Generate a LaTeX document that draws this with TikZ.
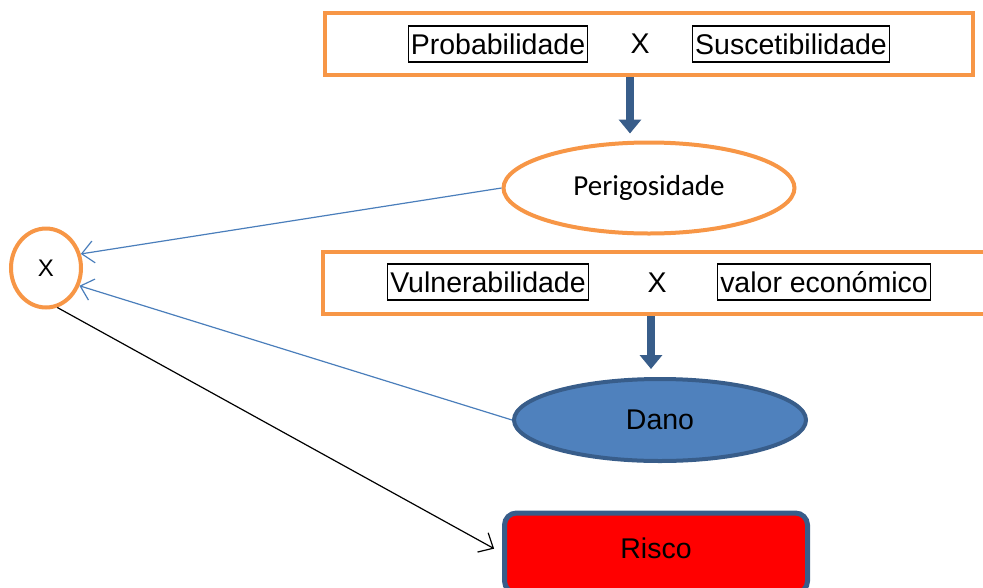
\documentclass[tikz,border=0pt]{standalone}
\usepackage{fontspec}
\setmainfont{Liberation Sans}
\newfontfamily\calibri{Carlito}
\usepackage{xcolor}
\usepackage{tikz}
\usetikzlibrary{arrows.meta,positioning,calc,shapes.geometric}
\definecolor{accorange}{HTML}{F79646}
\definecolor{accblue}{HTML}{4F81BD}
\definecolor{darkblue}{HTML}{385D8A}
\definecolor{linkblue}{HTML}{4A7EBB}

\begin{document}
\begin{tikzpicture}[
  x=1pt, y=-1pt,
  bigfont/.style = {font=\fontsize{28.5}{32}\selectfont},
  frame/.style  = {rectangle, draw=accorange, line width=4pt, fill=white,
                   minimum width=#1, minimum height=62pt, inner sep=0pt},
  word/.style   = {rectangle, draw=black, line width=1.2pt, bigfont,
                   inner sep=2.5pt, minimum height=36pt},
  times/.style  = {bigfont, inner sep=0pt},
  oval/.style   = {ellipse, draw=accorange, line width=4pt, fill=white,
                   inner sep=0pt},
  bigarrow/.style = {-{Triangle[width=22pt,length=14pt]}, line width=8pt,
                     darkblue},
  link/.style   = {-{Straight Barb[length=12pt,width=22pt]}, linkblue,
                   line width=1.2pt},
  outlink/.style = {-{Straight Barb[length=12pt,width=22pt]}, black,
                    line width=1.2pt}
]
\useasboundingbox (0,0) rectangle (983,587);
\clip (0,0) rectangle (983,587);

%% ─── Top product box ────────────────────────────────────────────
\node[frame=648pt] (hazbox) at (649,44) {};
\node[word] (prob) at (498,44) {Probabilidade};
\node[times] (times1) at (640,44) {X};
\node[word] (susc) at (791,44) {Suscetibilidade};

\node[oval, minimum width=291pt, minimum height=91pt,
      font=\calibri\fontsize{29}{32}\selectfont] (perig) at (649,188)
  {Perigosidade};

%% ─── Second product box (runs off the right edge) ───────────────
\node[frame=680pt] (vulbox) at (663,283) {};
\node[word] (vuln) at (488,282) {Vulnerabilidade};
\node[times] (times2) at (657,283) {X};
\node[word] (valor) at (824,282) {valor económico};

\node[oval, fill=accblue, draw=darkblue, minimum width=292pt,
      minimum height=82pt, bigfont] (dano) at (660,420) {Dano};

%% ─── Product circle and result ──────────────────────────────────
\node[oval, minimum width=70pt, minimum height=79pt,
      font=\fontsize{24}{28}\selectfont] (prod) at (46,268) {X};

\node[rectangle, rounded corners=12pt, draw=darkblue, line width=5pt,
      fill=red, minimum width=303pt, minimum height=80pt, bigfont,
      inner sep=0pt] (risco) at (656,553) {\raisebox{10pt}{Risco}};

%% ─── Arrows ─────────────────────────────────────────────────────
\draw[bigarrow] ($(hazbox.south)+(-19,0)$) -- ($(perig.north)+(-19,-7)$);
\draw[bigarrow] ($(vulbox.south)+(-12,0)$) -- ($(dano.north)+(-9,-8)$);

\draw[link] (perig.west) -- (prod.22);
\draw[link] (dano.west) -- (prod.-28);
\draw[outlink, shorten >=9pt] (prod.-74) -- (risco.west);

\end{tikzpicture}
\end{document}
